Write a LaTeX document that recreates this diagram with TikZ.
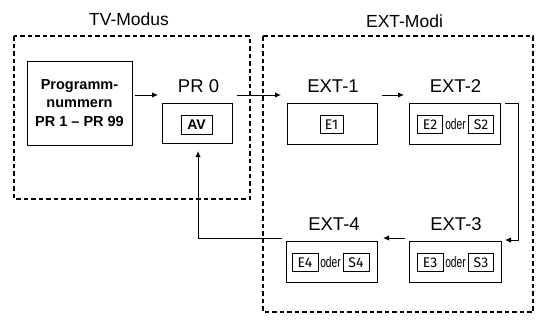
\documentclass[tikz,border=0pt]{standalone}
\usepackage{fontspec}
\setmainfont{Liberation Sans}
\newfontfamily\dinfont{Fira Sans}
\usetikzlibrary{arrows.meta}
\tikzset{
  frame/.style={draw, line width=1.2pt, dash pattern=on 4.5pt off 3pt},
  box/.style={draw, line width=1pt, inner sep=0pt},
  ibox/.style={draw, line width=1pt, inner sep=0pt, minimum height=18pt, font=\dinfont\fontsize{14}{14}\selectfont},
  title/.style={anchor=base, font=\fontsize{17.5}{18}\selectfont},
  lab/.style={anchor=base, font=\fontsize{18.5}{19}\selectfont},
  oder/.style={inner sep=0pt, font=\fontsize{15}{15}\selectfont},
  arr/.style={line width=1pt, -{Latex[length=6pt,width=5.5pt]}}
}
\newcommand{\odertxt}{\scalebox{0.68}[1]{oder}}
\begin{document}
\begin{tikzpicture}[x=1pt,y=-1pt]
\useasboundingbox (0,0) rectangle (537,322);
% frames
\draw[frame] (14,36) rectangle (250,199);
\draw[frame] (263,36) rectangle (533,312);
\node[title] (ttv) at (129,25) {TV-Modus};
\node[title] (text) at (404.5,27) {EXT-Modi};
% TV side
\node[box, minimum width=105pt, minimum height=84pt, align=center,
      font=\bfseries\fontsize{14.5}{18.5}\selectfont] (prog) at (79.5,103)
      {Programm-\\nummern\\PR 1 -- PR 99};
\node[lab] (lpr0) at (198.5,92) {PR 0};
\node[box, minimum width=70pt, minimum height=40pt] (pr0) at (197,123) {};
\node[ibox, minimum width=31pt, minimum height=19pt, font=\bfseries\fontsize{14}{14}\selectfont] (av) at (196.5,124.5) {AV};
% EXT-1
\node[lab] (lext1) at (333,92) {EXT-1};
\node[box, minimum width=90pt, minimum height=41pt] (ext1) at (332,123.5) {};
\node[ibox, minimum width=23pt] (e1) at (331.5,124.5) {E1};
% EXT-2
\node[lab] (lext2) at (455.5,92) {EXT-2};
\node[box, minimum width=91pt, minimum height=41pt] (ext2) at (454.5,123.5) {};
\node[ibox, minimum width=25pt] (e2) at (430,124.5) {E2};
\node[oder] (o2) at (455.5,124.5) {\odertxt};
\node[ibox, minimum width=25pt] (s2) at (481,124.5) {S2};
% EXT-3
\node[lab] (lext3) at (456,230) {EXT-3};
\node[box, minimum width=92pt, minimum height=41pt] (ext3) at (455,261.5) {};
\node[ibox, minimum width=26pt] (e3) at (430,262.5) {E3};
\node[oder] (o3) at (455.5,262.5) {\odertxt};
\node[ibox, minimum width=25pt] (s3) at (481,262.5) {S3};
% EXT-4
\node[lab] (lext4) at (334,230) {EXT-4};
\node[box, minimum width=91pt, minimum height=41pt] (ext4) at (331.5,261.5) {};
\node[ibox, minimum width=26pt] (e4) at (305,262.5) {E4};
\node[oder] (o4) at (330.5,262.5) {\odertxt};
\node[ibox, minimum width=26pt] (s4) at (356,262.5) {S4};
% connector points
\coordinate (c1s) at (135,95);
\coordinate (c1e) at (158,95);
\coordinate (c2s) at (237,95);
\coordinate (c2e) at (281,95);
\coordinate (c3s) at (382,95);
\coordinate (c3e) at (404,95);
\coordinate (c4s) at (505,103);
\coordinate (c4m) at (518,103);
\coordinate (c4n) at (518,240);
\coordinate (c4e) at (505,240);
\coordinate (c5s) at (405,238);
\coordinate (c5e) at (383,238);
\coordinate (c6s) at (282,238);
\coordinate (c6m) at (198,238);
\coordinate (c6e) at (198,151);
\draw[arr] (c1s) -- (c1e);
\draw[arr] (c2s) -- (c2e);
\draw[arr] (c3s) -- (c3e);
\draw[arr] (c4s) -- (c4m) -- (c4n) -- (c4e);
\draw[arr] (c5s) -- (c5e);
\draw[arr] (c6s) -- (c6m) -- (c6e);
\end{tikzpicture}
\end{document}
